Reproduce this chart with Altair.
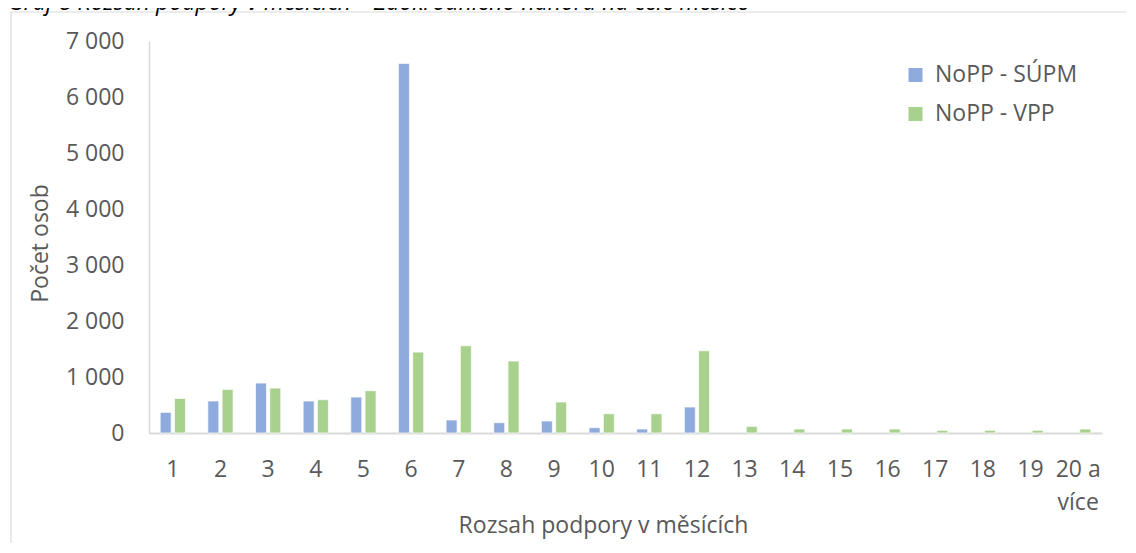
import altair as alt
import pandas as pd

# ---- data ----
categories = ["1", "2", "3", "4", "5", "6", "7", "8", "9", "10",
              "11", "12", "13", "14", "15", "16", "17", "18", "19", "20 a více"]
supm = [368, 571, 892, 571, 642, 6600, 232, 184, 214, 95,
        71, 464, 0, 0, 0, 0, 0, 0, 0, 0]
vpp = [617, 778, 803, 594, 755, 1445, 1558, 1285, 553, 344,
       344, 1469, 118, 71, 71, 71, 48, 48, 48, 71]
series = ["NoPP - SÚPM", "NoPP - VPP"]
colors = ["#8FAADC", "#A9D18E"]
y_ticks = [0, 1000, 2000, 3000, 4000, 5000, 6000, 7000]
caption = "Graf 8 Rozsah podpory v měsících – Zaokrouhleno nahoru na celé měsíce"
x_title = "Rozsah podpory v měsících"
y_title = "Počet osob"

rows = []
for c, a, b in zip(categories, supm, vpp):
    rows.append({"kategorie": c, "rada": series[0], "pocet": a})
    rows.append({"kategorie": c, "rada": series[1], "pocet": b})
df = pd.DataFrame(rows)

FONT = "Open Sans"
GRAY = "#595959"
LINE = "#D9D9D9"
W, H = 953, 392

bars = alt.Chart(df).transform_filter("datum.pocet > 0").mark_bar(
    stroke="white", strokeWidth=0.7
).encode(
    x=alt.X(
        "kategorie:N", sort=categories,
        scale=alt.Scale(domain=categories, paddingInner=0.47, paddingOuter=0.235),
        axis=alt.Axis(
            labelAngle=0, labelFont=FONT, labelFontSize=23, labelColor=GRAY,
            labelPadding=25, labelLineHeight=33,
            labelExpr="datum.label == '20 a více' ? ['20 a', 'více'] : datum.label",
            ticks=False, grid=False, domainColor=LINE, domainWidth=2,
            title=x_title, titleFont=FONT, titleFontSize=23, titleColor=GRAY,
            titleFontWeight="normal", titleX=454, titleY=99,
            titleBaseline="alphabetic", titleAlign="center",
        ),
    ),
    xOffset=alt.XOffset("rada:N", sort=series,
                        scale=alt.Scale(domain=series, paddingInner=0.23)),
    y=alt.Y(
        "pocet:Q",
        scale=alt.Scale(domain=[0, 7000], nice=False),
        axis=alt.Axis(
            values=y_ticks,
            labelExpr="replace(format(datum.value, ','), ',', ' ')",
            labelFont=FONT, labelFontSize=23, labelColor=GRAY, labelPadding=25,
            ticks=False, grid=False, domainColor=LINE, domainWidth=1.5,
            title=y_title, titleFont=FONT, titleFontSize=23, titleColor=GRAY,
            titleFontWeight="normal", titleX=-97, titleY=202,
        ),
    ),
    color=alt.Color(
        "rada:N", sort=series,
        scale=alt.Scale(domain=series, range=colors),
        legend=alt.Legend(
            title=None, orient="none", legendX=755, legendY=22.5,
            symbolType="square", symbolSize=196, symbolStrokeWidth=0,
            labelFont=FONT, labelFontSize=23, labelColor=GRAY,
            labelOffset=8, rowPadding=15, padding=0,
        ),
    ),
)

frame = alt.Chart(pd.DataFrame({"k": [0]})).mark_rect(
    fill=None, stroke=LINE, strokeWidth=1.2
).encode(
    x=alt.value(-138), x2=alt.value(W + 200),
    y=alt.value(-29), y2=alt.value(H + 300),
)

cap = alt.Chart(pd.DataFrame({"t": [caption]})).mark_text(
    font=FONT, fontSize=23, fontStyle="italic", color="#000000",
    align="left", baseline="alphabetic",
).encode(text="t:N", x=alt.value(-141), y=alt.value(-31))

chart = alt.layer(frame, bars, cap).properties(
    width=W, height=H,
    autosize=alt.AutoSizeParams(type="none"),
    padding={"left": 141, "top": 33, "right": 24, "bottom": 110},
    background="white",
).configure_view(stroke=None)

chart.save("out.html", embed_options={"renderer": "svg", "actions": False})
